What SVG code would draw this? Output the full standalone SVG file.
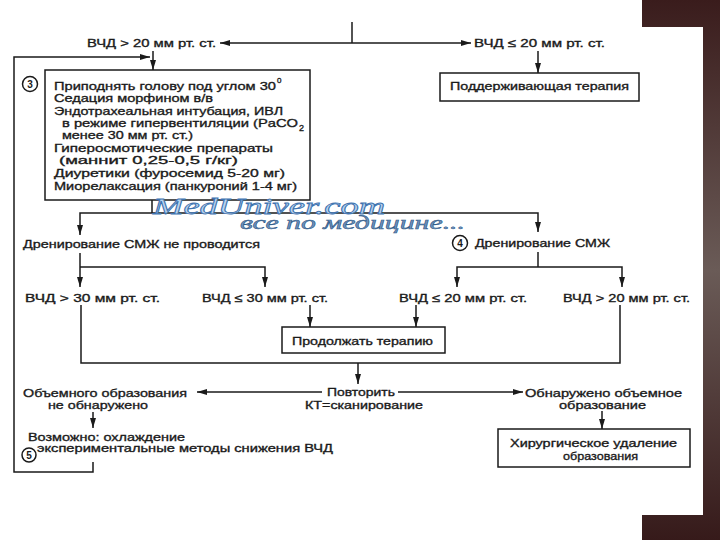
<svg xmlns="http://www.w3.org/2000/svg" width="720" height="540" viewBox="0 0 720 540">
<defs>
<linearGradient id="dark" x1="0" y1="0" x2="0" y2="1">
<stop offset="0" stop-color="#3a1c1c"/>
<stop offset="0.5" stop-color="#6a5b57"/>
<stop offset="1" stop-color="#361a1a"/>
</linearGradient>
<marker id="ah" viewBox="0 0 10 6" refX="10" refY="3" markerWidth="10" markerHeight="6" markerUnits="userSpaceOnUse" orient="auto">
<path d="M0,0 L10,3 L0,6 z" fill="#1a1a1a"/>
</marker>
<style>
.t{font-family:"Liberation Sans",Arial,sans-serif;font-size:11.5px;fill:#1a1a1a;stroke:#1a1a1a;stroke-width:0.35}
.box{fill:#fff;stroke:#1a1a1a;stroke-width:1.5}
.ln{fill:none;stroke:#1a1a1a;stroke-width:1.5}
.ar{fill:none;stroke:#1a1a1a;stroke-width:1.5;marker-end:url(#ah)}
.cir{fill:#fff;stroke:#1a1a1a;stroke-width:1.5}
.num{font-family:"Liberation Sans",Arial,sans-serif;font-size:10px;font-weight:bold;fill:#1a1a1a;text-anchor:middle}
.wm{font-family:"Liberation Serif","Times New Roman",serif;font-style:italic}
</style>
</defs>
<rect x="0" y="0" width="720" height="540" fill="#fff"/>
<path d="M642,0 H720 V540 H642 V515 H703 V27 H642 Z" fill="url(#dark)"/>

<g id="connectors">
<path class="ln" d="M352,22 V43"/>
<path class="ar" d="M352,43 H220"/>
<path class="ar" d="M352,43 H471"/>
<path class="ar" d="M538,51 V73"/>
<path class="ar" d="M153,51 V70"/>
<path class="ar" d="M93,462 V472 H14 V57 H150"/>
<path class="ln" d="M152,200 V213"/>
<path class="ar" d="M152,213 H80 V235"/>
<path class="ar" d="M152,213 H538 V232"/>
<path class="ar" d="M80,253 V287"/>
<path class="ar" d="M80,267 H265 V287"/>
<path class="ln" d="M538,252 V267"/>
<path class="ar" d="M538,267 H457 V287"/>
<path class="ar" d="M538,267 H622 V287"/>
<path class="ar" d="M310,305 V327"/>
<path class="ar" d="M416,305 V327"/>
<path class="ln" d="M81,305 V363 H620 V305"/>
<path class="ar" d="M358,363 V384"/>
<path class="ar" d="M322,392 H197"/>
<path class="ar" d="M398,392 H523"/>
<path class="ar" d="M602,411 V429"/>
<path class="ar" d="M93,412 V428"/>
</g>

<g id="top-left-label"><text class="t" x="87" y="47" textLength="129" lengthAdjust="spacingAndGlyphs">ВЧД &gt; 20 мм рт. ст.</text></g>
<g id="top-right-label"><text class="t" x="474" y="47" textLength="131" lengthAdjust="spacingAndGlyphs">ВЧД ≤ 20 мм рт. ст.</text></g>

<g id="support-box">
<rect class="box" x="440" y="73" width="199" height="28"/>
<text class="t" x="450" y="90" textLength="179" lengthAdjust="spacingAndGlyphs">Поддерживающая терапия</text>
</g>

<g id="step3">
<rect class="box" x="45" y="70" width="265" height="130"/>
<circle class="cir" cx="30" cy="84" r="7.5"/>
<text class="num" x="30" y="87.5">3</text>
<text class="t" x="54" y="90" textLength="222" lengthAdjust="spacingAndGlyphs">Приподнять голову под углом 30</text>
<text class="t" x="277" y="83" style="font-size:8px">0</text>
<text class="t" x="54" y="102" textLength="159" lengthAdjust="spacingAndGlyphs">Седация морфином в/в</text>
<text class="t" x="54" y="115" textLength="229" lengthAdjust="spacingAndGlyphs">Эндотрахеальная интубация, ИВЛ</text>
<text class="t" x="62" y="127" textLength="236" lengthAdjust="spacingAndGlyphs">в режиме гипервентиляции (PaCO</text>
<text class="t" x="299" y="131" style="font-size:9px">2</text>
<text class="t" x="62" y="139" textLength="131" lengthAdjust="spacingAndGlyphs">менее 30 мм рт. ст.)</text>
<text class="t" x="54" y="152" textLength="219" lengthAdjust="spacingAndGlyphs">Гиперосмотические препараты</text>
<text class="t" x="59" y="164" textLength="179" lengthAdjust="spacingAndGlyphs">(маннит 0,25-0,5 г/кг)</text>
<text class="t" x="54" y="177" textLength="231" lengthAdjust="spacingAndGlyphs">Диуретики (фуросемид 5-20 мг)</text>
<text class="t" x="54" y="190" textLength="243" lengthAdjust="spacingAndGlyphs">Миорелаксация (панкуроний 1-4 мг)</text>
</g>

<g id="watermark">
<text class="wm" x="153" y="214" font-size="24" fill="#b9d3ee" stroke="#3f74b0" stroke-width="0.8" textLength="232" lengthAdjust="spacingAndGlyphs">MedUniver.com</text>
<text class="wm" x="240" y="229" font-size="19" fill="#6f93bd" stroke="#2f5a88" stroke-width="0.5" textLength="225" lengthAdjust="spacingAndGlyphs">все по медицине...</text>
</g>

<g id="no-drain"><text class="t" x="23" y="248" textLength="237" lengthAdjust="spacingAndGlyphs">Дренирование СМЖ не проводится</text></g>
<g id="drain">
<circle class="cir" cx="460" cy="243" r="7.5"/>
<text class="num" x="460" y="246.5">4</text>
<text class="t" x="475" y="247" textLength="135" lengthAdjust="spacingAndGlyphs">Дренирование СМЖ</text>
</g>

<g id="icp-gt30"><text class="t" x="25" y="302" textLength="135" lengthAdjust="spacingAndGlyphs">ВЧД &gt; 30 мм рт. ст.</text></g>
<g id="icp-le30"><text class="t" x="202" y="302" textLength="126" lengthAdjust="spacingAndGlyphs">ВЧД ≤ 30 мм рт. ст.</text></g>
<g id="icp-le20"><text class="t" x="399" y="302" textLength="128" lengthAdjust="spacingAndGlyphs">ВЧД ≤ 20 мм рт. ст.</text></g>
<g id="icp-gt20"><text class="t" x="563" y="302" textLength="127" lengthAdjust="spacingAndGlyphs">ВЧД &gt; 20 мм рт. ст.</text></g>

<g id="continue">
<rect class="box" x="282" y="327" width="163" height="26"/>
<text class="t" x="292" y="345" textLength="141" lengthAdjust="spacingAndGlyphs">Продолжать терапию</text>
</g>

<g id="repeat-ct">
<text class="t" x="327" y="396" textLength="68" lengthAdjust="spacingAndGlyphs">Повторить</text>
<text class="t" x="305" y="409" textLength="118" lengthAdjust="spacingAndGlyphs">КТ=сканирование</text>
</g>

<g id="no-mass">
<text class="t" x="23" y="397" textLength="164" lengthAdjust="spacingAndGlyphs">Объемного образования</text>
<text class="t" x="48" y="409" textLength="100" lengthAdjust="spacingAndGlyphs">не обнаружено</text>
</g>

<g id="mass">
<text class="t" x="525" y="397" textLength="157" lengthAdjust="spacingAndGlyphs">Обнаружено объемное</text>
<text class="t" x="559" y="409" textLength="87" lengthAdjust="spacingAndGlyphs">образование</text>
</g>

<g id="surgery">
<rect class="box" x="498" y="429" width="192" height="38"/>
<text class="t" x="510" y="447" textLength="167" lengthAdjust="spacingAndGlyphs">Хирургическое удаление</text>
<text class="t" x="563" y="460" textLength="75" lengthAdjust="spacingAndGlyphs">образования</text>
</g>

<g id="step5">
<text class="t" x="28" y="441" textLength="157" lengthAdjust="spacingAndGlyphs">Возможно:  охлаждение</text>
<text class="t" x="37" y="452" textLength="296" lengthAdjust="spacingAndGlyphs">экспериментальные методы снижения ВЧД</text>
<circle class="cir" cx="29" cy="455" r="7"/>
<text class="num" x="29" y="458.5">5</text>
</g>
</svg>
